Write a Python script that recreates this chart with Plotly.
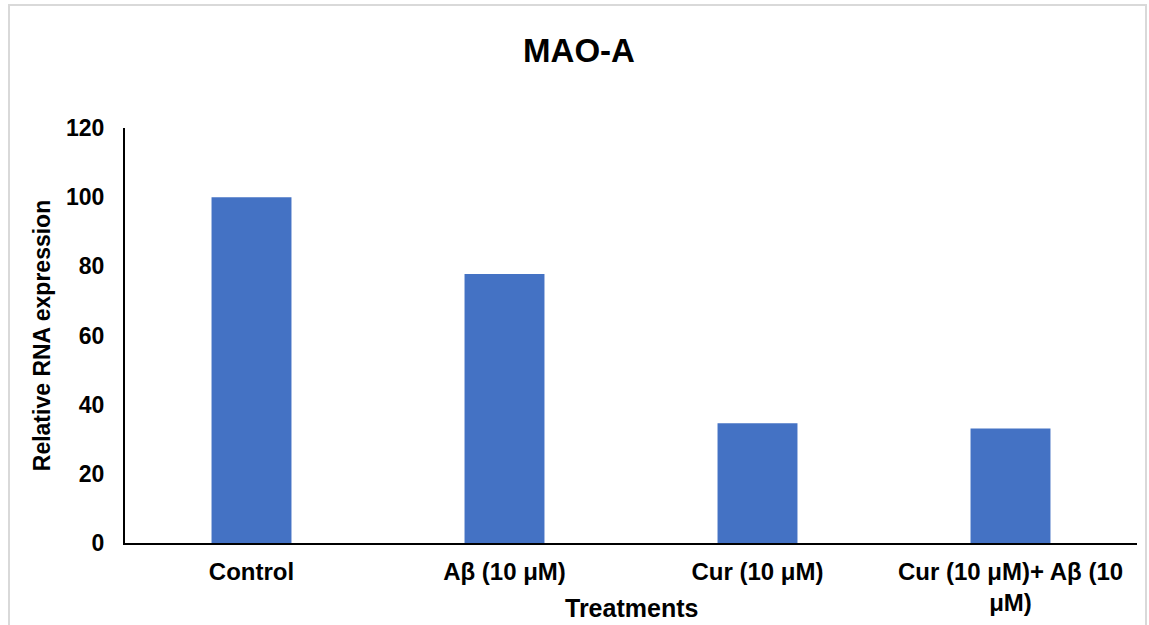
import plotly.graph_objects as go

categories = ["Control", "Aβ (10 μM)", "Cur (10 μM)", "Cur (10 μM)+ Aβ (10<br>μM)"]
values = [100, 77.8, 34.6, 33.1]
y_ticks = [0, 20, 40, 60, 80, 100, 120]

W, H = 1149, 625
L, R, T, B = 125, 12, 128, 82
pw = W - L - R
ph = H - T - B

def px_x(x):
    return (x - L) / pw

def px_y(y):
    return (H - B - y) / ph

fig = go.Figure()
fig.add_trace(go.Bar(
    x=categories, y=values, width=0.316,
    marker=dict(color="#4472C4", line=dict(width=0)),
))

font_fam = "Liberation Sans, Arial, sans-serif"
fig.update_layout(
    width=W, height=H,
    margin=dict(l=L, r=R, t=T, b=B, autoexpand=False),
    paper_bgcolor="white", plot_bgcolor="white",
    showlegend=False,
    title=dict(text="<b>MAO-A</b>", x=(579) / W, xanchor="center", y=1 - 50 / H, yanchor="middle",
               font=dict(family=font_fam, size=33, color="black")),
    font=dict(family=font_fam, color="black"),
    xaxis=dict(
        showline=True, linecolor="black", linewidth=2, showgrid=False, ticks="",
        automargin=False,
        ticklabelstandoff=6,
        tickfont=dict(family=font_fam, size=24, color="black", weight="bold"),
        range=[-0.5, 3.5],
    ),
    yaxis=dict(
        showline=True, linecolor="black", linewidth=2, showgrid=False, ticks="",
        automargin=False,
        range=[0, 120], tickvals=y_ticks, zeroline=False,
        tickfont=dict(family=font_fam, size=23, color="black", weight="bold"),
        ticklabelstandoff=14,
        title=dict(text="<b>Relative RNA expression</b>", font=dict(size=23, color="black"), standoff=9),
    ),
    annotations=[dict(text="<b>Treatments</b>", xref="paper", yref="paper",
                      x=0.5, y=px_y(608), xanchor="center", yanchor="middle", showarrow=False,
                      font=dict(family=font_fam, size=25, color="black"))],
    shapes=[dict(type="rect", xref="paper", yref="paper",
                 x0=px_x(9), x1=px_x(1146), y0=px_y(630), y1=px_y(5),
                 line=dict(color="#d9d9d9", width=2), fillcolor="rgba(0,0,0,0)", layer="below")],
)

fig.write_html("out.html", config={"displayModeBar": False},
               post_script="document.documentElement.style.margin='0';document.body.style.margin='0';"
                           "document.body.style.padding='0';document.body.style.overflow='hidden';")
